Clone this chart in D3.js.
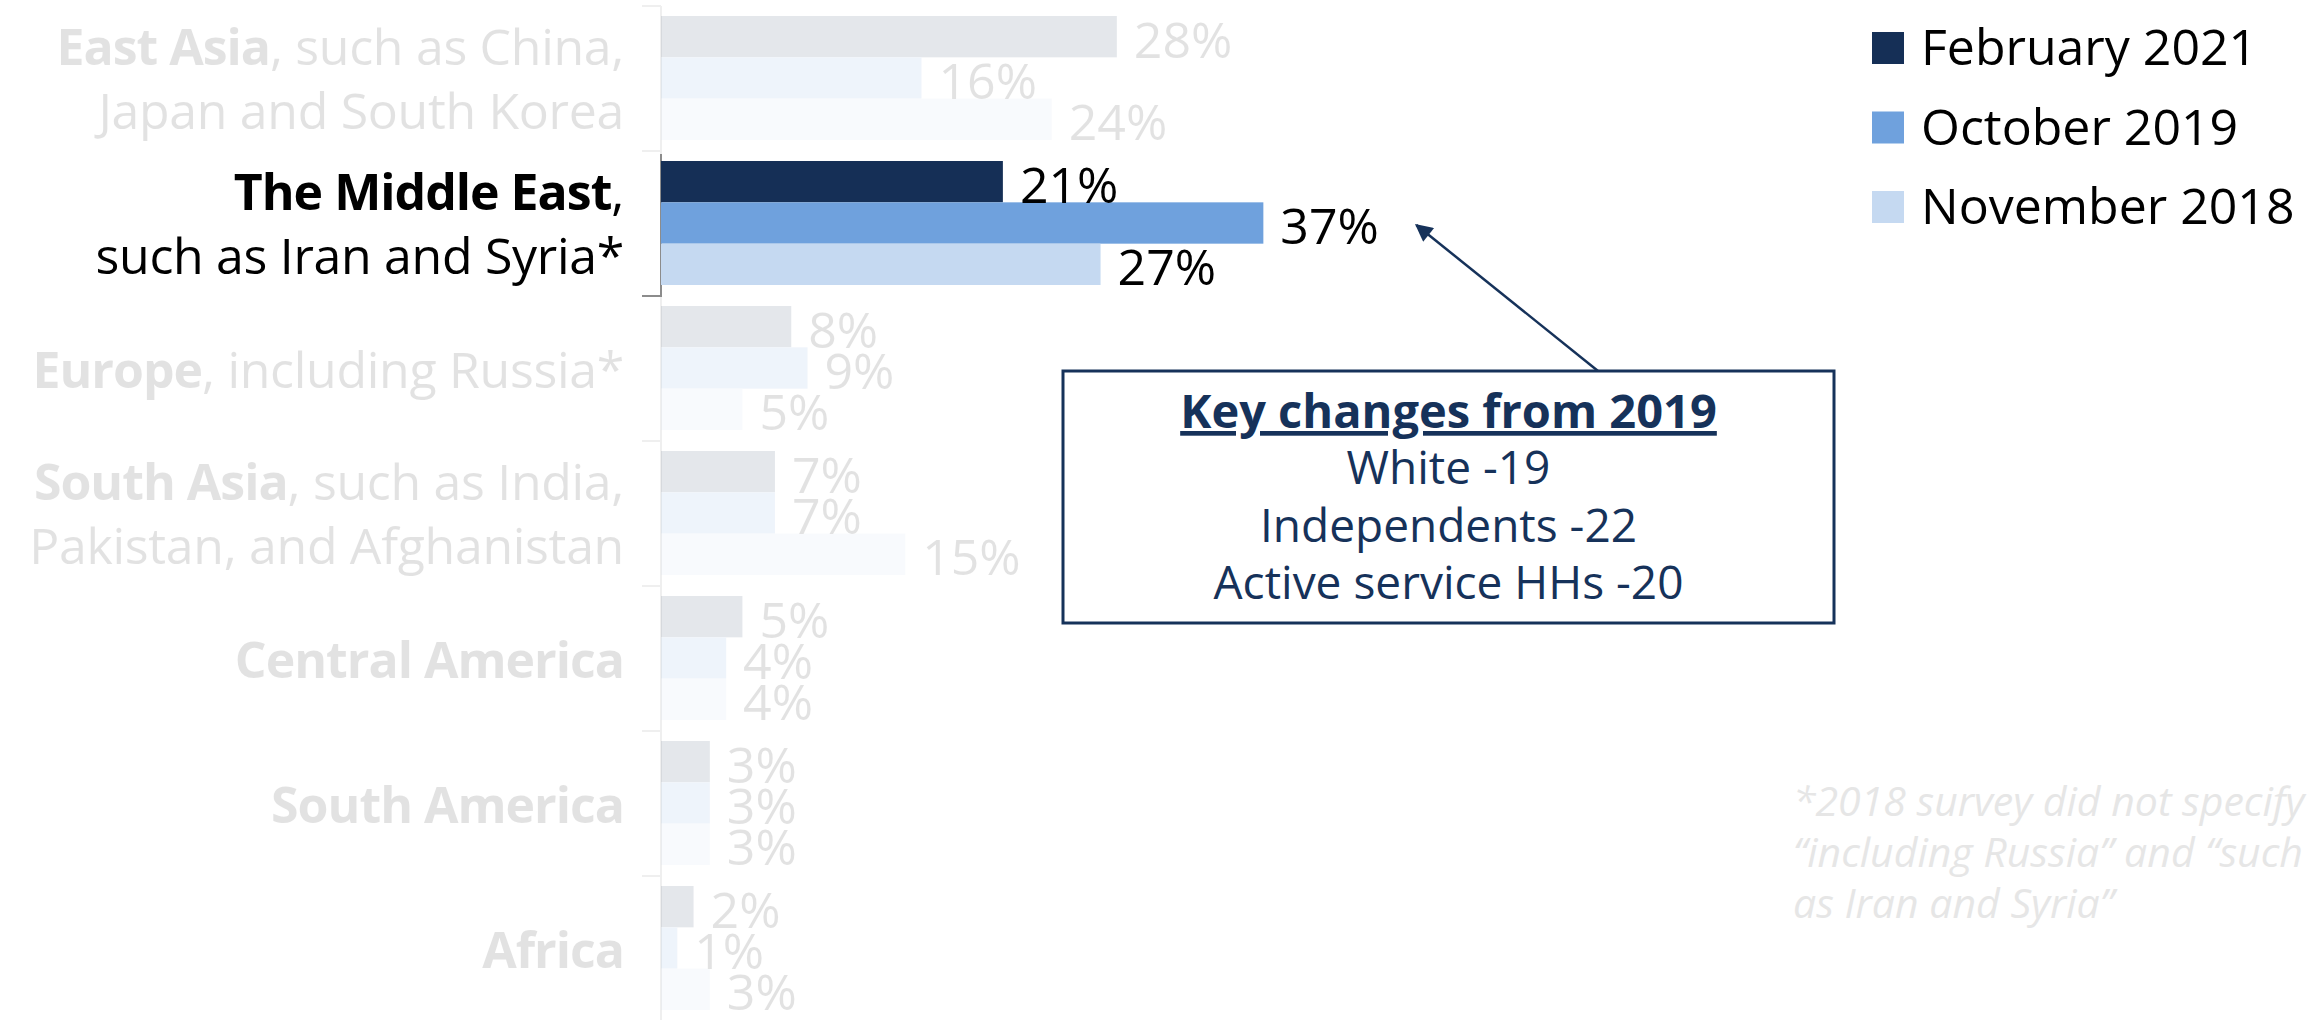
<!DOCTYPE html>
<html>
<head>
<meta charset="utf-8">
<script src="https://cdn.jsdelivr.net/npm/d3@7"></script>
<style>
  html, body { margin: 0; padding: 0; background: #fff; }
  svg { display: block; font-family: "Open Sans", "Noto Sans", sans-serif; }
</style>
</head>
<body>
<svg id="chart" width="2321" height="1020"></svg>
<script>
// ---- data ----
const categories = ["East Asia", "The Middle East", "Europe", "South Asia", "Central America", "South America", "Africa"];
const labelBold = ["East Asia", "The Middle East", "Europe", "South Asia", "Central America", "South America", "Africa"];
const labelRest1 = [", such as China,", ",", ", including Russia*", ", such as India,", "", "", ""];
const labelLine2 = ["Japan and South Korea", "such as Iran and Syria*", "", "Pakistan, and Afghanistan", "", "", ""];
const seriesNames = ["February 2021", "October 2019", "November 2018"];
const feb2021 = [28, 21, 8, 7, 5, 3, 2];
const oct2019 = [16, 37, 9, 7, 4, 3, 1];
const nov2018 = [24, 27, 5, 15, 4, 3, 3];
const highlighted = "The Middle East";
const calloutTitle = "Key changes from 2019";
const calloutLines = ["White -19", "Independents -22", "Active service HHs -20"];
const footnoteLines = ["*2018 survey did not specify", "\u201Cincluding Russia\u201D and \u201Csuch", "as Iran and Syria\u201D"];

const colors = ["#152f56", "#6fa1dd", "#c5d9f1"];
const navy = "#16325a";
const fade = 0.11;

const seriesValues = [feb2021, oct2019, nov2018];
const rows = categories.map((c, i) => ({
  cat: c, i,
  vals: seriesNames.map((s, k) => ({ s, k, v: seriesValues[k][i] }))
}));

const svg = d3.select("#chart");

const x = d3.scaleLinear().domain([0, 40]).range([661, 661 + 40 * 16.28]);
const y = d3.scaleBand().domain(categories).range([6, 1021]);
const yi = d3.scaleBand().domain(seriesNames).range([10, 134]);

// axis (faded full line + ticks)
const axisG = svg.append("g");
axisG.append("line")
  .attr("x1", x(0)).attr("x2", x(0))
  .attr("y1", y.range()[0]).attr("y2", y.range()[1])
  .attr("stroke", "#efefef").attr("stroke-width", 2);
axisG.selectAll("line.tick").data(d3.range(categories.length + 1)).join("line")
  .attr("class", "tick")
  .attr("x1", x(0) - 19).attr("x2", x(0))
  .attr("y1", d => y.range()[0] + d * y.step())
  .attr("y2", d => y.range()[0] + d * y.step())
  .attr("stroke", "#efefef").attr("stroke-width", 2);
// highlighted segment
const hy = y(highlighted);
axisG.append("path")
  .attr("d", `M${x(0)},${hy + 3}V${hy + y.bandwidth()}H${x(0) - 19}`)
  .attr("fill", "none").attr("stroke", "#8c8c8c").attr("stroke-width", 2);

// category groups
const g = svg.selectAll("g.cat").data(rows).join("g")
  .attr("class", "cat")
  .attr("transform", d => `translate(0,${y(d.cat)})`)
  .attr("opacity", d => d.cat === highlighted ? 1 : fade);

g.selectAll("rect").data(d => d.vals).join("rect")
  .attr("x", x(0))
  .attr("y", d => yi(d.s))
  .attr("width", d => x(d.v) - x(0))
  .attr("height", yi.bandwidth())
  .attr("fill", d => colors[d.k]);

g.selectAll("text.val").data(d => d.vals).join("text")
  .attr("class", "val")
  .attr("x", d => x(d.v) + 17)
  .attr("y", d => yi(d.s) + yi.bandwidth() / 2 + 21)
  .attr("font-size", 50)
  .attr("fill", "#000")
  .text(d => d.v + "%");

// category labels
const bw = y.bandwidth();
const catFont = 50;
g.each(function(d) {
  const sel = d3.select(this);
  const twoLines = labelLine2[d.i] !== "";
  const cap = 37;
  const c = bw / 2;
  const b1 = twoLines ? c - 32 + cap / 2 : c + cap / 2 + 1;
  const t1 = sel.append("text")
    .attr("x", 624).attr("y", b1)
    .attr("text-anchor", "end")
    .attr("font-size", catFont).attr("fill", "#000");
  t1.append("tspan").attr("font-weight", "bold").attr("letter-spacing", -1).text(labelBold[d.i]);
  if (labelRest1[d.i]) t1.append("tspan").attr("letter-spacing", -0.3).text(labelRest1[d.i]);
  if (twoLines) {
    sel.append("text")
      .attr("x", 624).attr("y", c + 32 + cap / 2)
      .attr("text-anchor", "end")
      .attr("font-size", catFont).attr("fill", "#000")
      .attr("letter-spacing", -0.3)
      .text(labelLine2[d.i]);
  }
});

// legend
const leg = svg.append("g").selectAll("g").data(seriesNames).join("g")
  .attr("transform", (d, k) => `translate(1872,${32 + k * 79.5})`);
leg.append("rect").attr("width", 32).attr("height", 32)
  .attr("fill", (d, k) => colors[k]);
leg.append("text").attr("x", 49).attr("y", 33)
  .attr("font-size", 50).attr("fill", "#000").text(d => d);

// callout arrow
const meIdx = categories.indexOf(highlighted);
const tipX = x(oct2019[meIdx]) + 153;
const tipY = y(highlighted) + yi(seriesNames[1]) + yi.bandwidth() / 2 + 2;
const boxX = 1063, boxY = 371, boxW = 771, boxH = 252;
const startX = 1598, startY = boxY;
const defs = svg.append("defs");
defs.append("marker").attr("id", "ah")
  .attr("viewBox", "0 0 10 10").attr("refX", 9).attr("refY", 5)
  .attr("markerWidth", 8).attr("markerHeight", 7)
  .attr("markerUnits", "strokeWidth")
  .attr("orient", "auto")
  .append("path").attr("d", "M0,0L10,5L0,10z").attr("fill", navy);
svg.append("line")
  .attr("x1", startX).attr("y1", startY)
  .attr("x2", tipX).attr("y2", tipY)
  .attr("stroke", navy).attr("stroke-width", 2.5)
  .attr("marker-end", "url(#ah)");

// callout box
svg.append("rect")
  .attr("x", boxX).attr("y", boxY).attr("width", boxW).attr("height", boxH)
  .attr("fill", "#fff").attr("stroke", navy).attr("stroke-width", 3);
const cx = boxX + boxW / 2;
svg.append("text")
  .attr("x", cx).attr("y", boxY + 57)
  .attr("text-anchor", "middle")
  .attr("font-size", 47).attr("font-weight", "bold")
  .attr("fill", navy).attr("text-decoration", "underline")
  .text(calloutTitle);
svg.selectAll("text.cl").data(calloutLines).join("text")
  .attr("class", "cl")
  .attr("x", cx).attr("y", (d, j) => boxY + 113 + j * 57.5)
  .attr("text-anchor", "middle")
  .attr("font-size", 46).attr("fill", navy)
  .text(d => d);

// footnote
svg.selectAll("text.fn").data(footnoteLines).join("text")
  .attr("class", "fn")
  .attr("x", 1793).attr("y", (d, j) => 816 + j * 51)
  .attr("font-size", 41).attr("font-style", "italic")
  .attr("fill", "#e6e6e6")
  .text(d => d);
</script>
</body>
</html>
